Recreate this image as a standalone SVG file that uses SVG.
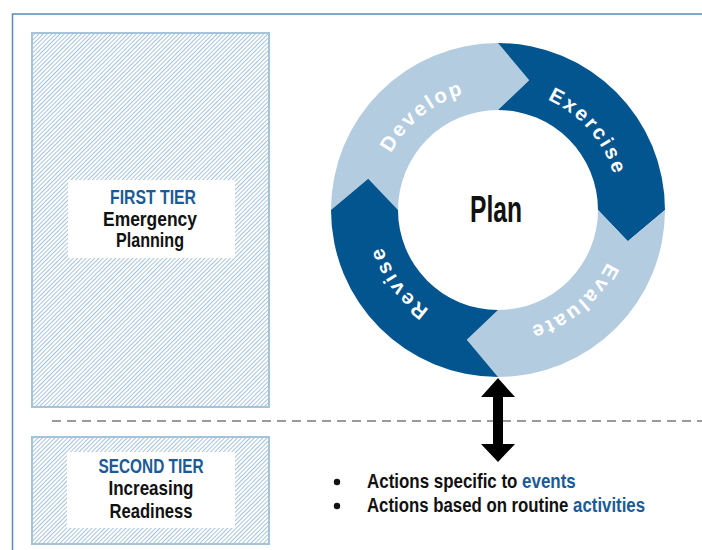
<svg xmlns="http://www.w3.org/2000/svg" width="702" height="550" viewBox="0 0 702 550">
<style>
.t{font-family:"Liberation Sans",Arial,sans-serif;font-weight:bold;}
.blue{fill:#1a5a96;}
.blk{fill:#111;}
.arc{fill:#fff;font-size:20.5px;letter-spacing:2.6px;}
.dark{fill:#03558f;}
.light{fill:#b4cce0;}
.tier{fill:url(#hatch);stroke:#a6c3dc;stroke-width:2;}
</style>
<defs>
<pattern id="hatch" patternUnits="userSpaceOnUse" width="3" height="3" patternTransform="rotate(45)">
<rect width="3" height="3" fill="#fff"/>
<line x1="0.5" y1="0" x2="0.5" y2="3" stroke="#a6c3dc" stroke-width="1"/>
</pattern>
<path id="ring" d="M498,331 A121,121 0 1 1 498,89 A121,121 0 1 1 498,331"/>
</defs>
<rect width="702" height="550" fill="#fff"/>
<path d="M12.5,550 V14 H702" fill="none" stroke="#5a8ab5" stroke-width="1.5"/>
<g id="first-tier">
<rect class="tier" x="32" y="33" width="237" height="374"/>
<rect x="68" y="180" width="167" height="78" fill="#fff"/>
<text class="t blue" x="153" y="204" font-size="21" text-anchor="middle" textLength="86" lengthAdjust="spacingAndGlyphs">FIRST TIER</text>
<text class="t blk" x="150" y="226" font-size="21" text-anchor="middle" textLength="94" lengthAdjust="spacingAndGlyphs">Emergency</text>
<text class="t blk" x="150" y="247" font-size="21" text-anchor="middle" textLength="68" lengthAdjust="spacingAndGlyphs">Planning</text>
</g>
<g id="second-tier">
<rect class="tier" x="32" y="437" width="237" height="107"/>
<rect x="67" y="452" width="168" height="76" fill="#fff"/>
<text class="t blue" x="151" y="473" font-size="21" text-anchor="middle" textLength="105" lengthAdjust="spacingAndGlyphs">SECOND TIER</text>
<text class="t blk" x="151" y="495" font-size="21" text-anchor="middle" textLength="85" lengthAdjust="spacingAndGlyphs">Increasing</text>
<text class="t blk" x="151" y="518" font-size="21" text-anchor="middle" textLength="83" lengthAdjust="spacingAndGlyphs">Readiness</text>
</g>
<g id="cycle">
<path id="develop" class="light" d="M331,210 A167,167 0 0 1 498,43 L529.2,80.2 L498,110 A100,100 0 0 0 398,210 L368.2,178.8 Z"/>
<path id="exercise" class="dark" d="M498,43 A167,167 0 0 1 665,210 L627.8,241.2 L598,210 A100,100 0 0 0 498,110 L529.2,80.2 Z"/>
<path id="evaluate" class="light" d="M665,210 A167,167 0 0 1 498,377 L466.8,339.8 L498,310 A100,100 0 0 0 598,210 L627.8,241.2 Z"/>
<path id="revise" class="dark" d="M498,377 A167,167 0 0 1 331,210 L368.2,178.8 L398,210 A100,100 0 0 0 498,310 L466.8,339.8 Z"/>
<text class="t arc"><textPath href="#ring" startOffset="39.2%" text-anchor="middle">Develop</textPath></text>
<text class="t arc"><textPath href="#ring" startOffset="63.6%" text-anchor="middle">Exercise</textPath></text>
<text class="t arc"><textPath href="#ring" startOffset="89.0%" text-anchor="middle">Evaluate</textPath></text>
<text class="t arc"><textPath href="#ring" startOffset="15.0%" text-anchor="middle">Revise</textPath></text>
<text class="t blk" x="496" y="222" font-size="37" text-anchor="middle" textLength="52" lengthAdjust="spacingAndGlyphs">Plan</text>
</g>
<g id="connectors">
<line x1="52" y1="421" x2="702" y2="421" stroke="#9a9a9a" stroke-width="2" stroke-dasharray="9 6"/>
<path d="M498,378 L515,397 L503,397 L503,444 L515,444 L498,462 L481,444 L493,444 L493,397 L481,397 Z" fill="#000"/>
</g>
<g id="actions">
<circle cx="337" cy="482" r="3.2" fill="#111"/>
<circle cx="337" cy="506" r="3.2" fill="#111"/>
<text class="t blk" font-size="21" transform="translate(367,488) scale(0.806,1)">Actions specific to <tspan class="blue">events</tspan></text>
<text class="t blk" font-size="21" transform="translate(367,512) scale(0.8,1)">Actions based on routine <tspan class="blue">activities</tspan></text>
</g>
</svg>
